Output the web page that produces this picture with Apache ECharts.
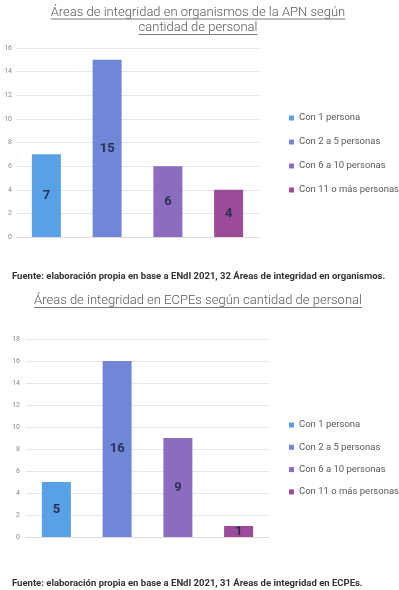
<!DOCTYPE html>
<html>
<head>
<meta charset="utf-8">
<script src="https://cdn.jsdelivr.net/npm/echarts@6/dist/echarts.min.js"></script>
<style>
  html, body { margin: 0; padding: 0; background: #fff; }
  #chart { width: 399px; height: 590px; }
</style>
</head>
<body>
<div id="chart"></div>
<script>
const categories = ['Con 1 persona', 'Con 2 a 5 personas', 'Con 6 a 10 personas', 'Con 11 o más personas'];
const organismosValues = [7, 15, 6, 4];
const ecpesValues = [5, 16, 9, 1];
const organismosTicks = [0, 2, 4, 6, 8, 10, 12, 14, 16];
const ecpesTicks = [0, 2, 4, 6, 8, 10, 12, 14, 16, 18];
const barColors = ['#59a1e6', '#7087d7', '#8c6cc0', '#9b4b98'];

const title1Lines = ['Áreas de integridad en organismos de la APN según', 'cantidad de personal'];
const title2Lines = ['Áreas de integridad en ECPEs según cantidad de personal'];
const source1 = 'Fuente: elaboración propia en base a ENdI 2021, 32 Áreas de integridad en organismos.';
const source2 = 'Fuente: elaboración propia en base a ENdI 2021, 31 Áreas de integridad en ECPEs.';

const titleFont = '300 13px Roboto';
const measureCtx = document.createElement('canvas').getContext('2d');
measureCtx.font = titleFont;

// title text + underline graphics
function titleGraphics(lines, cx, firstY, lineStep) {
  const out = [];
  lines.forEach((t, i) => {
    const y = firstY + i * lineStep;
    const w = measureCtx.measureText(t).width;
    out.push({
      type: 'text', x: cx, y: y,
      style: { text: t, font: titleFont, fill: '#595959', textAlign: 'center', textVerticalAlign: 'middle' }
    });
    out.push({
      type: 'line', shape: { x1: cx - w / 2, y1: y + 6.5, x2: cx + w / 2, y2: y + 6.5 },
      style: { stroke: '#7a7a7a', lineWidth: 1 }
    });
  });
  return out;
}

function makeSeries(values, axisIdx, stackName) {
  return categories.map((name, i) => ({
    name: name,
    type: 'bar',
    stack: stackName,
    xAxisIndex: axisIdx,
    yAxisIndex: axisIdx,
    barWidth: 29,
    itemStyle: { color: barColors[i] },
    label: {
      show: true,
      position: 'inside',
      color: '#2a3152',
      fontSize: 13,
      fontWeight: 'bold',
      fontFamily: 'Roboto'
    },
    data: values.map((v, j) => (j === i ? v : '-'))
  }));
}

function yAxisFor(ticks, idx, margin) {
  return {
    type: 'value',
    gridIndex: idx,
    min: ticks[0],
    max: ticks[ticks.length - 1],
    interval: ticks[1] - ticks[0],
    axisLine: { show: false },
    axisTick: { show: false },
    axisLabel: { fontSize: 7, color: '#888', margin: margin, fontFamily: 'Roboto' },
    splitLine: { lineStyle: { color: '#e6e6e6' } }
  };
}

function xAxisFor(idx) {
  return {
    type: 'category',
    gridIndex: idx,
    data: categories,
    axisLine: { lineStyle: { color: '#dcdcdc' } },
    axisTick: { show: false },
    axisLabel: { show: false }
  };
}

function legendFor(top, gap) {
  return {
    orient: 'vertical',
    left: 289,
    top: top,
    padding: 0,
    itemWidth: 5,
    itemHeight: 5,
    itemGap: gap,
    icon: 'rect',
    textStyle: { fontSize: 9.5, color: '#595959', fontFamily: 'Roboto', lineHeight: 12 },
    data: categories
  };
}

const chart = echarts.init(document.getElementById('chart'));

chart.setOption({
  animation: false,
  grid: [
    { left: 16, right: 140, top: 48, bottom: 353 },
    { left: 26, right: 130, top: 339, bottom: 53 }
  ],
  xAxis: [xAxisFor(0), xAxisFor(1)],
  yAxis: [yAxisFor(organismosTicks, 0, 4), yAxisFor(ecpesTicks, 1, 6)],
  legend: [legendFor(112, 12), legendFor(419, 10.3)],
  series: makeSeries(organismosValues, 0, 'a').concat(makeSeries(ecpesValues, 1, 'b')),
  graphic: [
    ...titleGraphics(title1Lines, 198, 12.5, 15.5),
    ...titleGraphics(title2Lines, 198, 301, 15.5),
    {
      type: 'text', x: 12, y: 277,
      style: { text: source1, font: 'bold 9.5px Roboto', fill: '#333', textVerticalAlign: 'middle' }
    },
    {
      type: 'text', x: 12, y: 584,
      style: { text: source2, font: 'bold 9.5px Roboto', fill: '#333', textVerticalAlign: 'middle' }
    }
  ]
});
</script>
</body>
</html>
